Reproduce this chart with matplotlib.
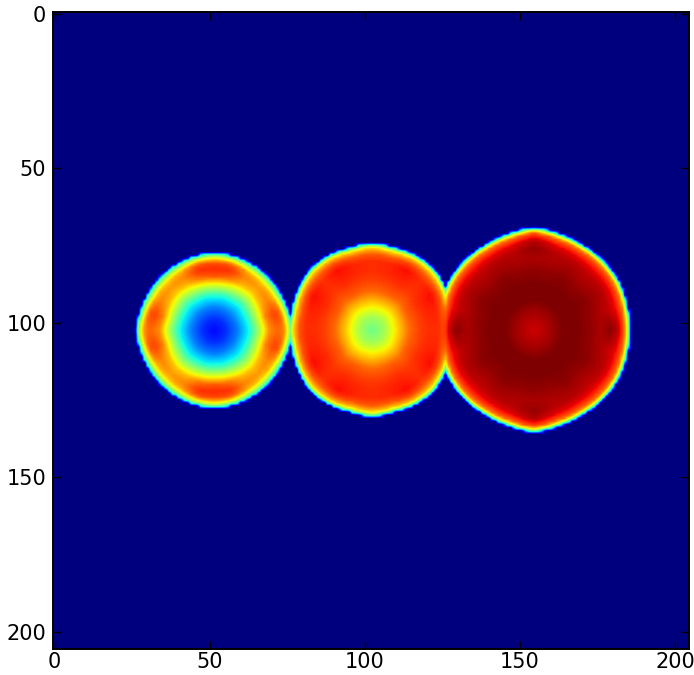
import matplotlib
matplotlib.use('Agg')
import matplotlib.pyplot as plt
import numpy as np

# Ukuran grid gambar dan label sumbu
grid_x = 205
grid_y = 206
tick_labels = [0, 50, 100, 150, 200]

# Titik sampel polar
sudut = [0, 15, 30, 45, 60, 75, 90]
r_frac = [0, .15, .3, .45, .6, .7, .8, .88, .95, 1.0, 1.012]

# Lingkaran kiri
pusat_1 = (51.5, 102.5)
tepi_1 = [25.3, 24.6, 24.4, 24.6, 24.6, 24.8, 25.0]
nilai_1 = [
    [.13, .17, .25, .38, .60, .76, .80, .78, .60, .38, 0],
    [.13, .17, .25, .38, .61, .78, .84, .82, .60, .38, 0],
    [.13, .17, .25, .38, .59, .72, .77, .73, .55, .36, 0],
    [.13, .17, .25, .37, .57, .70, .75, .70, .53, .35, 0],
    [.13, .17, .25, .38, .59, .72, .77, .73, .55, .36, 0],
    [.13, .17, .25, .38, .62, .79, .86, .82, .60, .38, 0],
    [.13, .17, .25, .39, .64, .82, .87, .82, .60, .38, 0],
]

# Lingkaran tengah
pusat_2 = (102.4, 102.3)
tepi_2 = [26.8, 26.6, 27.2, 28.0, 27.8, 27.4, 28.0]
nilai_2 = [
    [.48, .55, .68, .80, .85, .86, .86, .82, .68, .40, 0],
    [.48, .55, .68, .80, .85, .87, .87, .82, .68, .40, 0],
    [.48, .55, .68, .81, .86, .88, .90, .84, .70, .40, 0],
    [.48, .55, .68, .80, .85, .86, .86, .81, .68, .40, 0],
    [.48, .55, .68, .81, .86, .88, .90, .84, .70, .40, 0],
    [.48, .55, .68, .80, .85, .87, .87, .82, .68, .40, 0],
    [.48, .55, .68, .80, .85, .86, .86, .81, .68, .40, 0],
]

# Lingkaran kanan
pusat_3 = (154.5, 102.3)
tepi_3 = [30.8, 31.0, 31.5, 31.6, 31.5, 32.0, 33.0]
nilai_3 = [
    [.93, .96, 1.0, 1.0, .98, .96, .99, .95, .80, .42, 0],
    [.93, .96, 1.0, 1.0, .98, .96, .94, .90, .78, .42, 0],
    [.93, .96, 1.0, 1.0, .99, .97, .95, .90, .78, .42, 0],
    [.93, .96, 1.0, 1.0, .98, .96, .94, .89, .78, .42, 0],
    [.93, .96, 1.0, 1.0, .99, .97, .95, .90, .78, .42, 0],
    [.93, .96, 1.0, 1.0, .98, .96, .95, .91, .78, .42, 0],
    [.93, .96, 1.0, 1.0, .98, .96, .98, .95, .82, .42, 0],
]


# Fungsi untuk mengisi grid dari tabel polar satu lingkaran
def isi_lingkaran(pusat, tepi, nilai):
    yy, xx = np.mgrid[0:grid_y, 0:grid_x]
    dx = np.abs(xx - pusat[0])
    dy = np.abs(yy - pusat[1])
    theta = np.degrees(np.arctan2(dy, dx))
    jarak = np.hypot(dx, dy) / np.interp(theta, sudut, tepi)
    tabel = np.array(nilai)
    kolom = np.stack([np.interp(theta, sudut, tabel[:, j]) for j in range(tabel.shape[1])])
    hasil = np.zeros_like(jarak)
    for i in range(grid_y):
        for j in range(grid_x):
            hasil[i, j] = np.interp(jarak[i, j], r_frac, kolom[:, i, j], right=0)
    return hasil


gambar = np.maximum.reduce([
    isi_lingkaran(pusat_1, tepi_1, nilai_1),
    isi_lingkaran(pusat_2, tepi_2, nilai_2),
    isi_lingkaran(pusat_3, tepi_3, nilai_3),
])

fig = plt.figure(figsize=(6.94, 6.75), dpi=100)
ax = fig.add_axes([53 / 694, 1 - 649 / 675, 636 / 694, 637 / 675])
ax.imshow(gambar, cmap='jet', vmin=0, vmax=1, interpolation='bilinear', aspect='auto')
ax.set_xticks(tick_labels)
ax.set_yticks(tick_labels)
ax.tick_params(direction='in', top=True, right=True, length=6, width=1, labelsize=15)
ax.tick_params(axis='x', pad=2)
ax.tick_params(axis='y', pad=5)
for s in ax.spines.values():
    s.set_linewidth(1.4)

fig.savefig('out.png', dpi=100)
